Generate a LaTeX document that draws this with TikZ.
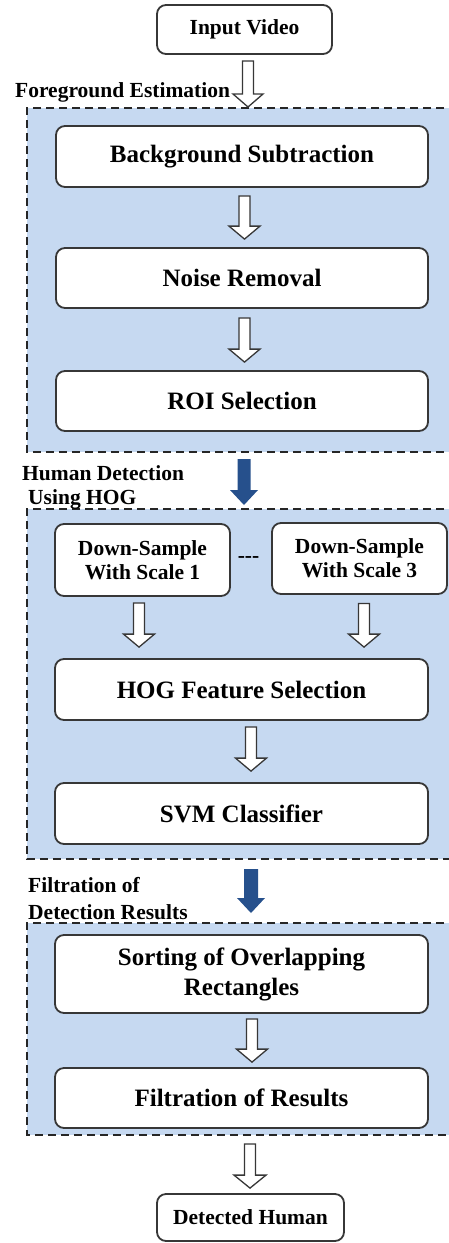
\documentclass[tikz,border=0pt]{standalone}
\usepackage{fontspec}
\setmainfont{Liberation Serif}
\usetikzlibrary{calc}

\definecolor{regionblue}{RGB}{198,217,241}
\definecolor{arrowblue}{RGB}{38,80,140}
\definecolor{boxline}{RGB}{55,55,55}

\tikzset{
  stage/.style={draw=boxline, line width=1.8pt, fill=white, rounded corners=9pt,
    inner sep=0pt, align=center, font=\bfseries\fontsize{25}{30}\selectfont},
  smallstage/.style={stage, font=\bfseries\fontsize{21.5}{24}\selectfont},
  region/.style={draw=black!85, line width=1.6pt, dash pattern=on 8pt off 5pt, fill=regionblue},
  grouplabel/.style={inner sep=0pt, align=left, font=\bfseries\fontsize{21.5}{24}\selectfont},
  hollowarrow/.style={draw=boxline, line width=1.3pt, fill=white, line join=miter},
  bluearrow/.style={fill=arrowblue, draw=none},
}

% block arrow from the first point straight down to the level of the second one
% #1 style, #2 start, #3 tip, #4 shaft half width, #5 head half width, #6 head length
\newcommand\blockarrow[6]{%
  \path[#1] let \p1=(#2), \p2=(#3) in
    (\x1-#4,\y1) -- (\x1+#4,\y1) -- (\x1+#4,\y2+#6) -- (\x1+#5,\y2+#6)
    -- (\x1,\y2) -- (\x1-#5,\y2+#6) -- (\x1-#4,\y2+#6) -- cycle;}

\begin{document}
\begin{tikzpicture}[x=1pt,y=-1pt]
\useasboundingbox (0,0) rectangle (449,1243);

% dashed group regions (right side runs off the page)
\path[region] (470,108) -- (27,108) -- (27,452) -- (470,452);
\path[region] (470,509) -- (27,509) -- (27,859) -- (470,859);
\path[region] (470,923) -- (27,923) -- (27,1135) -- (470,1135);

% entry and exit points of the regions
\coordinate (fgin)  at (248,107);
\coordinate (fgout) at (244,459);
\coordinate (hdin)  at (244,505);
\coordinate (hdout) at (251,869);
\coordinate (frin)  at (251,913);

% group titles
\node[grouplabel, anchor=base west] (fglabel) at (15,97) {Foreground Estimation};
\node[grouplabel, anchor=west] (hdlabel) at (22,487) {Human Detection\\\hspace*{6pt}Using HOG};
\node[grouplabel, anchor=west, font=\bfseries\fontsize{21.5}{27}\selectfont] (frlabel) at (28,899) {Filtration of\\Detection Results};

% processing stages
\node[smallstage, minimum width=175pt, minimum height=49pt] (in) at (244.5,29.5) {Input Video};
\node[stage, minimum width=372pt, minimum height=61pt] (bs) at (242,156.5) {Background Subtraction};
\node[stage, minimum width=372pt, minimum height=60pt] (nr) at (242,278) {Noise Removal};
\node[stage, minimum width=372pt, minimum height=60pt] (roi) at (242,401) {ROI Selection};
\node[smallstage, minimum width=175pt, minimum height=72pt] (ds1) at (142.5,560) {Down-Sample\\With Scale 1};
\node[smallstage, minimum width=175pt, minimum height=71pt] (ds3) at (359.5,558.5) {Down-Sample\\With Scale 3};
\node[inner sep=0pt, font=\bfseries\fontsize{21.5}{24}\selectfont] (dots) at (248.5,560) {-{}-{}-};
\node[stage, minimum width=373pt, minimum height=61pt] (hog) at (241.5,689.5) {HOG Feature Selection};
\node[stage, minimum width=373pt, minimum height=61pt] (svm) at (241.5,813.5) {SVM Classifier};
\node[stage, minimum width=373pt, minimum height=78pt] (sort) at (241.5,974) {Sorting of Overlapping\\Rectangles};
\node[stage, minimum width=373pt, minimum height=60pt] (filt) at (241.5,1098) {Filtration of Results};
\node[smallstage, minimum width=187pt, minimum height=47pt] (out) at (250.5,1217.5) {Detected Human};

% connectors
\blockarrow{hollowarrow}{[xshift=3.5pt,yshift=-6pt]in.south}{fgin}{5.5pt}{15pt}{13pt}
\blockarrow{hollowarrow}{[xshift=2.5pt,yshift=-8pt]bs.south}{[yshift=8pt]nr.north}{5.5pt}{15.5pt}{13pt}
\blockarrow{hollowarrow}{[xshift=2.5pt,yshift=-9pt]nr.south}{[yshift=8pt]roi.north}{5.5pt}{15.5pt}{13pt}
\blockarrow{bluearrow}{fgout}{hdin}{6.5pt}{14pt}{15pt}
\blockarrow{hollowarrow}{[xshift=-3.5pt,yshift=-6pt]ds1.south}{[yshift=11pt]hog.north}{5.5pt}{15.5pt}{13pt}
\blockarrow{hollowarrow}{[xshift=4.5pt,yshift=-8.5pt]ds3.south}{[yshift=11pt]hog.north}{5.5pt}{15.5pt}{13pt}
\blockarrow{hollowarrow}{[xshift=9.5pt,yshift=-6pt]hog.south}{[yshift=11pt]svm.north}{5.5pt}{15.5pt}{13pt}
\blockarrow{bluearrow}{hdout}{frin}{7pt}{14pt}{15pt}
\blockarrow{hollowarrow}{[xshift=10.5pt,yshift=-5pt]sort.south}{[yshift=5pt]filt.north}{5.5pt}{15.5pt}{13pt}
\blockarrow{hollowarrow}{[xshift=8.5pt,yshift=-15pt]filt.south}{[yshift=5pt]out.north}{5.5pt}{16pt}{13pt}
\end{tikzpicture}
\end{document}
